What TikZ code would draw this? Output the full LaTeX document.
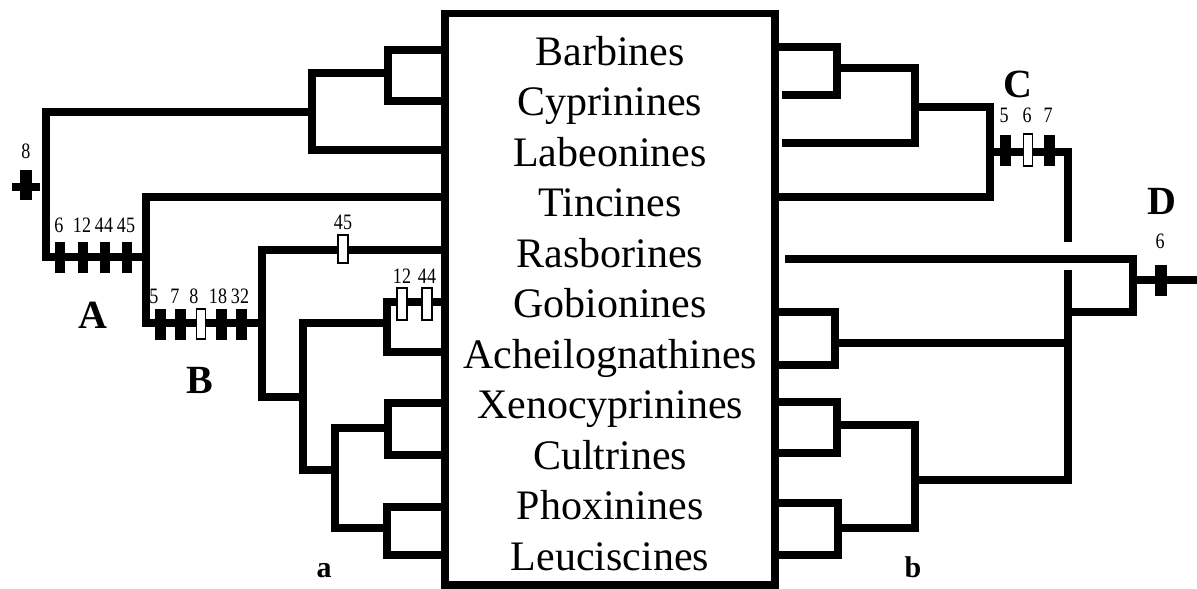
\documentclass[tikz,border=0pt]{standalone}
\usepackage{fontspec}
\setmainfont{Liberation Serif}
\newfontfamily\numfont[FakeStretch=0.82]{Liberation Serif}
\begin{document}
\begin{tikzpicture}[x=1pt,y=-1pt,
  br/.style={line width=7.5pt, line join=miter},
  taxon/.style={anchor=base, inner sep=0pt, font=\fontsize{42}{50}\selectfont},
  num/.style={anchor=base, inner sep=0pt, font=\numfont\fontsize{22}{22}\selectfont},
  clade/.style={anchor=base, inner sep=0pt, font=\fontsize{40}{40}\selectfont\bfseries},
  panel/.style={anchor=base, inner sep=0pt, font=\fontsize{30}{30}\selectfont\bfseries},
  blk/.style={fill=black, draw=none, minimum width=11pt, minimum height=31pt, inner sep=0pt},
  opn/.style={fill=white, draw=black, line width=1.5pt, minimum width=10pt, minimum height=30pt, inner sep=0pt}]
\useasboundingbox (0,0) rectangle (1197,589);

% central box
\node[draw, line width=7.5pt, minimum width=330pt, minimum height=571.5pt, inner sep=0pt] (box) at (610,299.25) {};

% taxa
\foreach \t [count=\k from 0] in {Barbines,Cyprinines,Labeonines,Tincines,Rasborines,Gobionines,Acheilognathines,Xenocyprinines,Cultrines,Phoxinines,Leuciscines}
  \node[taxon] (t\k) at (610,{65+50.5*\k}) {\t};

% left attachment points
\coordinate (L1) at (445,50);
\coordinate (L2) at (445,101);
\coordinate (L3) at (445,150);
\coordinate (L4) at (445,197);
\coordinate (L5) at (445,250);
\coordinate (L6) at (445,302);
\coordinate (L7) at (445,352);
\coordinate (L8) at (445,403);
\coordinate (L9) at (445,455);
\coordinate (L10) at (445,507);
\coordinate (L11) at (445,555);

% right attachment points
\coordinate (R1) at (775,47);
\coordinate (R2) at (782,95);
\coordinate (R3) at (782,143);
\coordinate (R4) at (775,197);
\coordinate (R5) at (785,259);
\coordinate (R6) at (775,312);
\coordinate (R7) at (775,365);
\coordinate (R8) at (775,402);
\coordinate (R9) at (775,453);
\coordinate (R10) at (775,503);
\coordinate (R11) at (775,555);

% ---------- tree a (left) ----------
\coordinate (a12) at (388,73);
\coordinate (a123) at (312,112);
\coordinate (aA) at (146,257);
\coordinate (aB) at (262,323);
\coordinate (aR) at (303,397);
\coordinate (aG) at (387,323);
\coordinate (aX) at (335,470);
\coordinate (aXC) at (388,428);
\coordinate (aPL) at (387,528);

\draw[br] (L1) -| (388,101) -- (L2);
\draw[br] (a12) -| (312,150) -- (L3);
\draw[br] (a123) -| (46,257) -- (aA);
\draw[br] (L4) -| (146,323) -- (aB);
\draw[br] (L5) -| (262,397) -- (aR);
\draw[br] (L6) -| (387,352) -- (L7);
\draw[br] (aG) -| (303,470) -- (aX);
\draw[br] (L8) -| (388,455) -- (L9);
\draw[br] (aXC) -| (335,528) -- (aPL);
\draw[br] (L10) -| (387,555) -- (L11);

% root stub with character 8
\coordinate (s8a) at (12,187);
\coordinate (s8b) at (40,187);
\draw[br] (s8a) -- (s8b);
\node[blk, minimum width=12pt, minimum height=30pt] (m8) at (26,185) {};
\node[num] (n8) at (26,158) {8};

% clade A marks
\foreach \x/\l [count=\i] in {60/6,83/12,105/44,127/45} {
  \node[blk, minimum width=10pt] (mA\i) at (\x,257) {};
  \node[num] (nA\i) at (\x-1,232) {\l};
}
\node[clade] (labA) at (93,328) {A};

% clade B marks
\node[blk] (mB1) at (160,324) {};
\node[blk] (mB2) at (180,324) {};
\node[opn, minimum width=9pt] (mB3) at (201,324) {};
\node[blk] (mB4) at (221,324) {};
\node[blk] (mB5) at (241,324) {};
\node[num] (nB1) at (154,303) {5};
\node[num] (nB2) at (175,303) {7};
\node[num] (nB3) at (194,303) {8};
\node[num] (nB4) at (218,303) {18};
\node[num] (nB5) at (240,303) {32};
\node[clade] (labB) at (200,393) {B};

% open marks on Rasborines and Gobionines
\node[opn, minimum height=28pt] (m45) at (343,249) {};
\node[num] (n45) at (343,229) {45};
\node[opn, minimum height=32pt] (m12) at (402,304) {};
\node[opn, minimum height=32pt] (m44) at (427,304) {};
\node[num] (n12) at (402,283) {12};
\node[num] (n44) at (427,283) {44};

\node[panel] (pa) at (324,577) {a};

% ---------- tree b (right) ----------
\coordinate (b12) at (837,68);
\coordinate (b123) at (915,107);
\coordinate (bC) at (990,152);
\coordinate (bCtop) at (1068,242);
\coordinate (bDlow) at (1068,270);
\coordinate (bXP) at (915,480);
\coordinate (bD) at (1068,312);
\coordinate (bRoot) at (1133,280);
\coordinate (bEnd) at (1197,280);
\coordinate (bGA) at (835,343);
\coordinate (bGAend) at (1068,343);
\coordinate (bXC) at (837,425);
\coordinate (bPL) at (838,528);

\draw[br] (R1) -| (837,95) -- (R2);
\draw[br] (b12) -| (915,143) -- (R3);
\draw[br] (b123) -| (990,197) -- (R4);
\draw[br] (bC) -| (bCtop);
\draw[br] (bDlow) |- (bXP);
\draw[br] (R5) -| (1133,312) -- (bD);
\draw[br] (bRoot) -- (bEnd);
\draw[br] (R6) -| (835,365) -- (R7);
\draw[br] (bGA) -- (bGAend);
\draw[br] (R8) -| (837,453) -- (R9);
\draw[br] (bXC) -| (915,528) -- (bPL);
\draw[br] (R10) -| (838,555) -- (R11);

% clade C marks
\node[blk] (mC1) at (1005,150) {};
\node[opn, minimum width=9pt, minimum height=32pt] (mC2) at (1028,150) {};
\node[blk] (mC3) at (1049,150) {};
\node[num] (nC1) at (1004,122) {5};
\node[num] (nC2) at (1027,122) {6};
\node[num] (nC3) at (1048,122) {7};
\node[clade] (labC) at (1018,97) {C};

% clade D mark
\node[blk, minimum width=12pt] (mD) at (1161,280) {};
\node[num] (nD) at (1160,248) {6};
\node[clade] (labD) at (1162,214) {D};

\node[panel] (pb) at (913,577) {b};
\end{tikzpicture}
\end{document}
